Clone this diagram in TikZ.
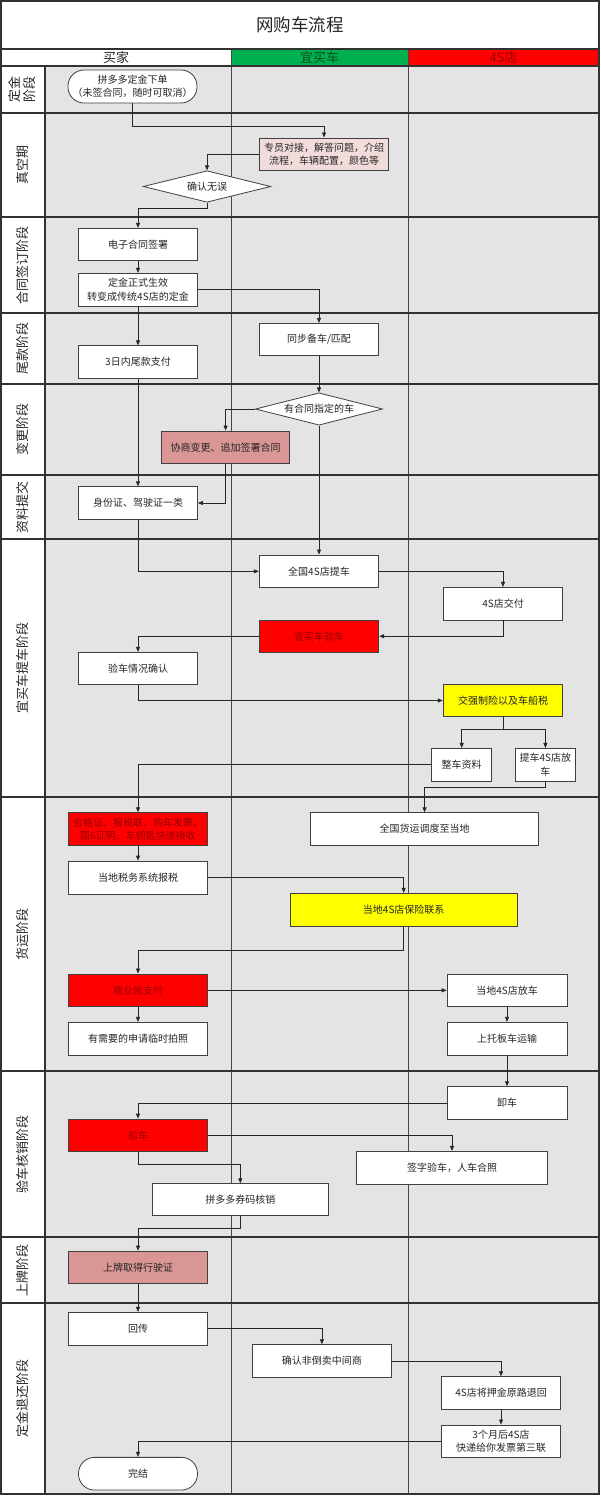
\documentclass[tikz,border=0pt]{standalone}
\usepackage{fontspec}
\setmainfont{Noto Sans CJK SC}
\usetikzlibrary{arrows.meta,shapes.geometric}
\definecolor{lanegray}{RGB}{228,228,228}
\definecolor{rowline}{RGB}{50,50,50}
\definecolor{colline}{RGB}{70,70,70}
\definecolor{boxline}{RGB}{64,64,64}
\definecolor{pinkL}{RGB}{242,220,219}
\definecolor{pinkD}{RGB}{217,150,148}
\definecolor{hdrgreen}{RGB}{0,176,80}
\definecolor{hdrgreentext}{RGB}{0,80,30}
\definecolor{hdrred}{RGB}{255,0,0}
\definecolor{darkredtext}{RGB}{150,0,0}
\definecolor{boxyellow}{RGB}{255,255,0}
\begin{document}
\begin{tikzpicture}[x=1pt,y=-1pt,
  box/.style={draw=boxline, line width=0.8pt, fill=white, inner sep=0pt, align=center,
    font=\fontsize{10}{13.5}\selectfont, text={black!85}},
  redbox/.style={box, fill=hdrred, text=darkredtext},
  yelbox/.style={box, fill=boxyellow},
  pinkbox/.style={box, fill=pinkL},
  pinkdbox/.style={box, fill=pinkD},
  term/.style={box, rounded corners=16pt},
  decision/.style={box, diamond, aspect=4},
  arr/.style={draw={black!85}, line width=0.8pt, -{Triangle[length=5pt,width=4pt]}},
  phase/.style={rotate=90, align=center, font=\fontsize{13}{15}\selectfont, text={black!85}},
  hdr/.style={font=\fontsize{13}{15}\selectfont}
]
\useasboundingbox (0,0) rectangle (600,1496);
% backgrounds
\fill[white] (0,0) rectangle (600,1496);
\fill[lanegray] (45,66) rectangle (599,1494);
\fill[hdrgreen] (231,49) rectangle (408,66);
\fill[hdrred] (408,49) rectangle (599,66);
% title and headers
\node[font=\fontsize{17.5}{20}\selectfont, text={black!85}] (title) at (300,25) {网购车流程};
\node[hdr, text={black!85}] (hbuyer) at (116,57.5) {买家};
\node[hdr, text=hdrgreentext] (hyimai) at (319.5,57.5) {宜买车};
\node[hdr, text=darkredtext] (h4s) at (503.5,57.5) {4S店};
% column lines
\draw[colline, line width=0.9pt] (231,49) -- (231,1494);
\draw[colline, line width=0.9pt] (408,49) -- (408,1494);
\draw[rowline, line width=1.2pt] (45,66) -- (45,1494);
% row lines
\foreach \yy in {49,66,113,217,313,384,475,539,797,1071,1237,1303}
  \draw[rowline, line width=1.3pt] (1,\yy) -- (599,\yy);
\draw[rowline, line width=1.4pt] (1,1) rectangle (599,1494);
% phase labels
\node[phase] (p1) at (22.5,89.5) {定金\\阶段};
\node[phase] (p2) at (22.5,165) {真空期};
\node[phase] (p3) at (22.5,265) {合同签订阶段};
\node[phase] (p4) at (22.5,348.5) {尾款阶段};
\node[phase] (p5) at (22.5,429.5) {变更阶段};
\node[phase] (p6) at (22.5,507) {资料提交};
\node[phase] (p7) at (22.5,668) {宜买车提车阶段};
\node[phase] (p8) at (22.5,934) {货运阶段};
\node[phase] (p9) at (22.5,1154) {验车核销阶段};
\node[phase] (p10) at (22.5,1270) {上牌阶段};
\node[phase] (p11) at (22.5,1398.5) {定金退还阶段};
% nodes
\node[term, minimum width=129pt, minimum height=33pt] (start) at (132.5,86.5) {拼多多定金下单\\（未签合同，随时可取消）};
\node[pinkbox, minimum width=129pt, minimum height=32.7pt] (zy) at (324,154.3) {专员对接，解答问题，介绍\\流程，车辆配置，颜色等};
\node[decision, minimum width=127.5pt, minimum height=31.5pt] (cf) at (207,186.5) {确认无误};
\node[box, minimum width=119pt, minimum height=32.4pt] (dz) at (138,244.5) {电子合同签署};
\node[box, minimum width=119pt, minimum height=32.7pt] (dj) at (138,289.7) {定金正式生效\\转变成传统4S店的定金};
\node[box, minimum width=119.5pt, minimum height=32.4pt] (tb) at (319,339.5) {同步备车/匹配};
\node[box, minimum width=119pt, minimum height=32.3pt] (wk) at (138,362) {3日内尾款支付};
\node[decision, minimum width=127pt, minimum height=32.3pt] (yh) at (319,409) {有合同指定的车};
\node[pinkdbox, minimum width=128pt, minimum height=32.7pt] (xs) at (225.6,447.3) {协商变更、追加签署合同};
\node[box, minimum width=119pt, minimum height=32.3pt] (sf) at (138,503) {身份证、驾驶证一类};
\node[box, minimum width=119.5pt, minimum height=32.7pt] (qg) at (319,571.3) {全国4S店提车};
\node[box, minimum width=119.6pt, minimum height=32.7pt] (jf) at (503,603.7) {4S店交付};
\node[redbox, minimum width=119.5pt, minimum height=32.3pt] (ymc) at (319,636.2) {宜买车验车};
\node[box, minimum width=119pt, minimum height=32pt] (yq) at (138,668.3) {验车情况确认};
\node[yelbox, minimum width=119.6pt, minimum height=32.4pt] (jq) at (503,700.5) {交强制险以及车船税};
\node[box, minimum width=60pt, minimum height=32.7pt] (zc) at (461.7,764.7) {整车资料};
\node[box, minimum width=59.7pt, minimum height=32.7pt] (tc) at (545.4,764.7) {提车4S店放\\车};
\node[redbox, minimum width=139pt, minimum height=32.6pt] (hg) at (138,829) {合格证、报税联、购车发票、\\国6证明、车钥匙快递接收};
\node[box, minimum width=227.7pt, minimum height=32.6pt] (hy) at (424.6,829) {全国货运调度至当地};
\node[box, minimum width=139pt, minimum height=33pt] (ds) at (138,877.5) {当地税务系统报税};
\node[yelbox, minimum width=227.4pt, minimum height=32.7pt] (bx) at (403.7,909.7) {当地4S店保险联系};
\node[redbox, minimum width=139pt, minimum height=32.7pt] (sy) at (138,990.3) {商业险支付};
\node[box, minimum width=119.8pt, minimum height=32.7pt] (fc) at (507,990.3) {当地4S店放车};
\node[box, minimum width=139pt, minimum height=33pt] (lp) at (138,1038.8) {有需要的申请临时拍照};
\node[box, minimum width=119.8pt, minimum height=33pt] (tbc) at (507,1038.8) {上托板车运输};
\node[box, minimum width=119.8pt, minimum height=32.6pt] (xc) at (507,1103) {卸车};
\node[redbox, minimum width=139pt, minimum height=32.7pt] (yc) at (138,1135.4) {验车};
\node[box, minimum width=191.7pt, minimum height=32.7pt] (qz) at (452,1167.7) {签字验车，人车合照};
\node[box, minimum width=176pt, minimum height=32pt] (pq) at (240.3,1199.7) {拼多多券码核销};
\node[pinkdbox, minimum width=139pt, minimum height=32.3pt] (sp) at (138,1267.2) {上牌取得行驶证};
\node[box, minimum width=139pt, minimum height=32.7pt] (hc) at (138,1328.7) {回传};
\node[box, minimum width=138.5pt, minimum height=32.6pt] (qr) at (321.9,1361) {确认非倒卖中间商};
\node[box, minimum width=119.4pt, minimum height=32.6pt] (yj) at (501,1393) {4S店将押金原路退回};
\node[box, minimum width=119.4pt, minimum height=32.7pt] (sg) at (501,1441.3) {3个月后4S店\\快递给你发票第三联};
\node[term, minimum width=119pt, minimum height=32.7pt] (wj) at (138,1473.7) {完结};
% connectors
\draw[arr] (start.south) -- ++(0,23) -| (zy.north);
\draw[arr] (zy.west) -| (cf.north);
\draw[arr] (cf.south) -- ++(0,6) -| (dz.north);
\draw[arr] (dz.south) -- (dj.north);
\draw[arr] (dj.east) -| (tb.north);
\draw[arr] (dj.south) -- (wk.north);
\draw[arr] (tb.south) -- (yh.north);
\draw[arr] (yh.west) -| (xs.north);
\draw[arr] (xs.south) |- (sf.east);
\draw[arr] (wk.south) -- (sf.north);
\draw[arr] (yh.south) -- (qg.north);
\draw[arr] (sf.south) |- (qg.west);
\draw[arr] (qg.east) -| (jf.north);
\draw[arr] (jf.south) |- (ymc.east);
\draw[arr] (ymc.west) -| (yq.north);
\draw[arr] (yq.south) |- (jq.west);
\draw[arr] (jq.south) -- ++(0,12.3) -| (zc.north);
\draw[arr] (jq.south) -- ++(0,12.3) -| (tc.north);
\draw[arr] (zc.west) -| (hg.north);
\draw[arr] (tc.south) -- ++(0,6.3) -| (hy.north);
\draw[arr] (hg.south) -- (ds.north);
\draw[arr] (ds.east) -| (bx.north);
\draw[arr] (bx.south) -- ++(0,24) -| (sy.north);
\draw[arr] (sy.east) -- (fc.west);
\draw[arr] (sy.south) -- (lp.north);
\draw[arr] (fc.south) -- (tbc.north);
\draw[arr] (tbc.south) -- (xc.north);
\draw[arr] (xc.west) -| (yc.north);
\draw[arr] (yc.east) -| (qz.north);
\draw[arr] (yc.south) -- ++(0,12) -| (pq.north);
\draw[arr] (pq.south) -- ++(0,12.3) -| (sp.north);
\draw[arr] (sp.south) -- (hc.north);
\draw[arr] (hc.east) -| (qr.north);
\draw[arr] (qr.east) -| (yj.north);
\draw[arr] (yj.south) -- (sg.north);
\draw[arr] (sg.west) -| (wj.north);
\end{tikzpicture}
\end{document}
